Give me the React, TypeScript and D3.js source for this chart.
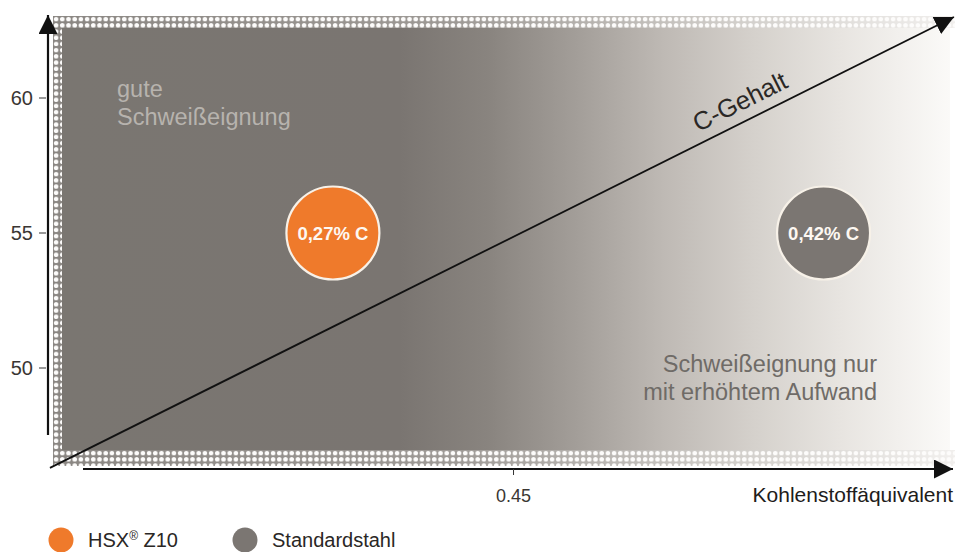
import { useMemo } from "react";
import * as d3 from "d3";

const W = 956;
const H = 552;

// y axis ticks (no unit given in the source)
const yTicks = [50, 55, 60];
// x axis: only one labelled value on the carbon equivalent axis
const xTicks = [0.45];
const xTickLabels = ["0.45"];

// the two steels
const steelNames = ["HSX® Z10", "Standardstahl"];
const steelCE = [0.39, 0.553];
const steelY = [55, 55];
const carbonLabels = ["0,27% C", "0,42% C"];
const steelColors = ["#ef7a2b", "#7b7672"];

// C-Gehalt arrow, start and end in data units
const cLineCE = [0.296, 0.5963];
const cLineY = [46.3, 63.0];

const FONT = "'Liberation Sans', Arial, Helvetica, sans-serif";

export default function App() {
  const plot = { left: 62, right: 950, top: 28, bottom: 450 };

  const x = useMemo(
    () => d3.scaleLinear().domain([0.3, 0.595]).range([plot.left, plot.right]),
    []
  );
  const y = useMemo(
    () => d3.scaleLinear().domain([50, 60]).range([368, 98]),
    []
  );

  const cLine = d3.line<number>()
    .x((_, i) => x(cLineCE[i]))
    .y((_, i) => y(cLineY[i]));
  const cPath = cLine([0, 1]) ?? "";

  const x0 = x(cLineCE[0]);
  const y0 = y(cLineY[0]);
  const x1 = x(cLineCE[1]);
  const y1 = y(cLineY[1]);
  const angle = (Math.atan2(y1 - y0, x1 - x0) * 180) / Math.PI;
  const labelT = 0.773;
  const lx = x0 + (x1 - x0) * labelT;
  const ly = y0 + (y1 - y0) * labelT;

  const yAxisX = 48;
  const xAxisY = 469;

  const bg = [
    [0, "#7a7671"],
    [0.38, "#7a7571"],
    [0.48, "#89847f"],
    [0.58, "#a39e99"],
    [0.68, "#bfbab5"],
    [0.78, "#d5d1cc"],
    [0.88, "#e8e5e1"],
    [1, "#fbfaf8"],
  ] as const;

  return (
    <svg
      width={W}
      height={H}
      viewBox={`0 0 ${W} ${H}`}
      style={{ position: "absolute", left: 0, top: 0, background: "#fff" }}
      fontFamily={FONT}
    >
      <defs>
        <linearGradient id="bg-grad" x1="0" x2="1" y1="0" y2="0">
          {bg.map(([o, c]) => (
            <stop key={o} offset={o} stopColor={c} />
          ))}
        </linearGradient>
        <linearGradient id="band-grad" gradientUnits="userSpaceOnUse" x1={53} x2={955} y1="0" y2="0">
          <stop offset="0" stopColor="#8a8682" />
          <stop offset="0.45" stopColor="#9e9a96" />
          <stop offset="0.75" stopColor="#d0cdc9" />
          <stop offset="1" stopColor="#f1efed" />
        </linearGradient>
        <pattern id="dots" patternUnits="userSpaceOnUse" x={53} y={16} width={6.2} height={6.2}>
          <circle cx={3.1} cy={3.1} r={2.3} fill="#fdfcfb" />
        </pattern>
        <marker id="arrow-big" viewBox="0 0 10 10" refX="10" refY="5" markerWidth="19" markerHeight="19" markerUnits="userSpaceOnUse" orient="auto">
          <path d="M0,0 L10,5 L0,10 z" fill="#111" />
        </marker>
      </defs>

      {/* plot background */}
      <rect
        x={plot.left}
        y={plot.top}
        width={plot.right - plot.left}
        height={plot.bottom - plot.top}
        fill="url(#bg-grad)"
      />

      {/* dotted frame */}
      {[
        { x: 53, y: 16, w: 902, h: 12 },
        { x: 53, y: 28, w: 9, h: 422 },
        { x: 53, y: 450, w: 902, h: 16 },
      ].map((b, i) => (
        <g key={i}>
          <rect x={b.x} y={b.y} width={b.w} height={b.h} fill="url(#band-grad)" />
          <rect x={b.x} y={b.y} width={b.w} height={b.h} fill="url(#dots)" />
        </g>
      ))}

      {/* region labels */}
      <text x={117} fontSize={23.5} fill="#b7b3ae">
        <tspan x={117} y={97}>gute</tspan>
        <tspan x={117} y={125}>Schweißeignung</tspan>
      </text>
      <text textAnchor="end" fontSize={23.5} fill="#6f6b67">
        <tspan x={877} y={372}>Schweißeignung nur</tspan>
        <tspan x={877} y={400}>mit erhöhtem Aufwand</tspan>
      </text>

      {/* C-Gehalt arrow */}
      <path d={cPath} fill="none" stroke="#111" strokeWidth={1.8} markerEnd="url(#arrow-big)" />
      <text
        transform={`translate(${lx},${ly}) rotate(${angle})`}
        y={-11}
        textAnchor="middle"
        fontSize={25.5}
        fill="#2a2725"
      >
        C-Gehalt
      </text>

      {/* steel bubbles */}
      {steelCE.map((ce, i) => (
        <g key={steelNames[i]} transform={`translate(${x(ce)},${y(steelY[i])})`}>
          <circle r={46.5} fill={steelColors[i]} stroke="#f7f1e8" strokeWidth={2.2} />
          <text y={6.5} textAnchor="middle" fontSize={18.5} fontWeight="bold" fill="#fdf8f2">
            {carbonLabels[i]}
          </text>
        </g>
      ))}

      {/* y axis */}
      <line x1={yAxisX} x2={yAxisX} y1={435} y2={15} stroke="#111" strokeWidth={2.2} markerEnd="url(#arrow-big)" />
      {yTicks.map((t) => (
        <g key={t} transform={`translate(0,${y(t)})`}>
          <line x1={39} x2={46} stroke="#333" strokeWidth={1} />
          <text x={33} dy="0.35em" textAnchor="end" fontSize={20} fill="#3a3633">
            {t}
          </text>
        </g>
      ))}

      {/* x axis */}
      <line x1={83} x2={953} y1={xAxisY} y2={xAxisY} stroke="#111" strokeWidth={2.2} markerEnd="url(#arrow-big)" />
      {xTicks.map((t, i) => (
        <g key={t} transform={`translate(${x(t)},0)`}>
          <line y1={xAxisY} y2={xAxisY + 6} stroke="#333" strokeWidth={1} />
          <text y={502} textAnchor="middle" fontSize={18} fill="#3a3633">
            {xTickLabels[i]}
          </text>
        </g>
      ))}
      <text x={953} y={502} textAnchor="end" fontSize={21} fill="#1e1c1b">
        Kohlenstoffäquivalent
      </text>

      {/* legend */}
      {steelNames.map((name, i) => {
        const cx = [61, 245][i];
        return (
          <g key={name} transform={`translate(${cx},540)`}>
            <circle r={12.5} fill={steelColors[i]} />
            <text x={27} y={7} fontSize={20} fill="#2a2725">
              {name.includes("®") ? (
                <>
                  {name.split("®")[0]}
                  <tspan fontSize={12} dy={-7}>®</tspan>
                  <tspan dy={7}>{name.split("®")[1]}</tspan>
                </>
              ) : (
                name
              )}
            </text>
          </g>
        );
      })}
    </svg>
  );
}
